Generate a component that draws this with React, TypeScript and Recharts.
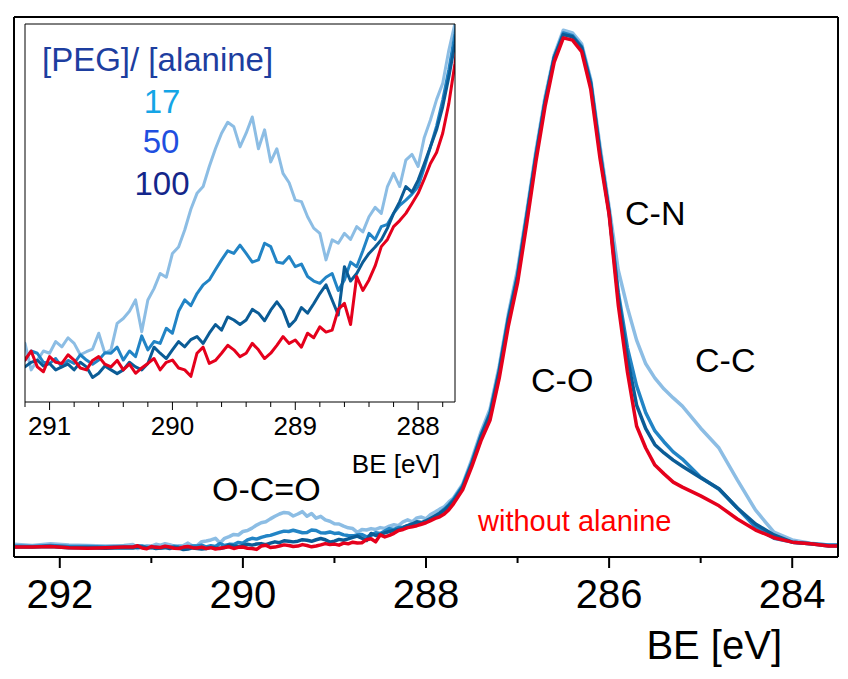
import React from "react";
import { LineChart, Line, XAxis, YAxis, CartesianGrid } from "recharts";

// binding energy (eV), shared by all series
const be = [
  292.5, 292.3, 292.1, 291.9, 291.7, 291.5, 291.3,
  291.2, 291.15, 291.1, 291.05, 291.0, 290.95, 290.9, 290.85, 290.8, 290.75,
  290.7, 290.65, 290.6, 290.55, 290.5, 290.45, 290.4, 290.35, 290.3, 290.25,
  290.2, 290.15, 290.1, 290.05, 290.0, 289.95, 289.9, 289.85, 289.8, 289.75,
  289.7, 289.65, 289.6, 289.55, 289.5, 289.45, 289.4, 289.35, 289.3, 289.25,
  289.2, 289.15, 289.1, 289.05, 289.0, 288.95, 288.9, 288.85, 288.8, 288.75,
  288.7, 288.65, 288.6, 288.55, 288.5, 288.45, 288.4, 288.35, 288.3, 288.25,
  288.2, 288.15, 288.1, 288.05, 288.0, 287.95, 287.9, 287.85, 287.8, 287.75,
  287.7,
  287.6, 287.5, 287.4, 287.3, 287.2, 287.1, 287.0, 286.9, 286.8, 286.7,
  286.6, 286.5, 286.4, 286.3, 286.2, 286.1, 286.0, 285.9, 285.8, 285.7,
  285.6, 285.5, 285.4, 285.3, 285.2,
  285.0, 284.8, 284.6, 284.4, 284.2, 284.0, 283.8, 283.6, 283.5,
];

// [PEG]/[alanine] = 17
const peg17 = [
  16, 14, 17, 15, 14, 13, 14,
  15.5, 8.5, 11, 13.5, 12.9, 16, 14.6, 17, 15.5, 12.5,
  13.3, 14, 18.2, 12.9, 13.8, 20.8, 22.1, 24, 27, 18.6,
  27, 30, 34, 33, 39.3, 41, 45.5, 51, 55.2, 57,
  62.3, 67, 71.1, 74, 72.8, 67.5, 71.1, 75.4, 67, 72,
  63.5, 67, 60.5, 58, 53.4, 53, 49, 46, 44.6, 37.6,
  42.9, 42, 44.6, 43, 46.4, 45, 49, 51.5, 49.9, 57,
  60.5, 57, 64, 65.5, 62.3, 70, 74.6, 80, 84.3, 93.1,
  100.2,
  125, 170, 220, 262, 340, 435, 515, 620, 730, 828,
  905, 950, 945, 925, 860, 740, 629, 514, 446, 387,
  344, 318, 298, 282, 267,
  227, 191, 133, 78, 38, 24, 18, 15, 15,
];

// = 50
const peg50 = [
  13, 12, 14, 12, 12, 11, 12,
  11.1, 13.5, 12.9, 10.5, 10.2, 11.5, 9.3, 11, 10.2, 12.5,
  11.1, 10, 11.1, 13, 12.9, 14.5, 11.1, 13.5, 12, 17.5,
  13.8, 16, 15.5, 19.5, 18.2, 24, 27, 25.5, 28.7, 31,
  32.3, 35, 37.6, 40, 39.3, 41.5, 39.3, 37, 37.6, 42,
  41.1, 37, 36.7, 38.5, 35.8, 36.5, 33.2, 32, 31.4, 33,
  34, 29.5, 32.3, 37, 35.8, 40, 44.6, 43, 46.4, 47,
  49.9, 52, 53.4, 55, 57, 62, 67.5, 73, 79.9, 88,
  97.5,
  122, 165, 214, 255, 332, 428, 505, 612, 722, 820,
  900, 945, 940, 920, 855, 730, 618, 474, 373, 304,
  255, 222, 202, 184, 171,
  138, 116, 82, 47, 27, 20, 17, 15, 15,
];

// = 100
const peg100 = [
  11, 11, 12, 10, 10, 9, 10,
  9.3, 10.5, 11.1, 9.5, 10.2, 8.5, 9.3, 10, 8.5, 10.5,
  9.3, 6.5, 7.6, 9.5, 8.5, 7.5, 8.5, 10.5, 9.3, 8.5,
  10.2, 14.5, 12.9, 11.5, 13.8, 16, 14.6, 16.5, 17.3, 15.5,
  18.2, 20.5, 19, 22.5, 21.7, 20.5, 21.7, 24.5, 23.5, 21.5,
  24.3, 26.5, 24.3, 20, 21.7, 25, 23.5, 26, 28.7, 31,
  27, 23, 35.8, 32, 34, 37, 39.3, 41, 42.9, 46,
  49.9, 53, 57, 55.5, 58.7, 63, 67.5, 72, 78.1, 86,
  94.9,
  120, 162, 212, 252, 330, 425, 502, 610, 720, 820,
  900, 942, 938, 918, 852, 728, 620, 464, 355, 269,
  226, 197, 182, 169, 158,
  137, 117, 82, 53, 33, 20, 17, 13, 13,
];

// without alanine
const noAla = [
  11, 11, 12, 10, 9, 10, 11,
  11.1, 13.5, 9.3, 8, 12, 10.5, 10.2, 12.5, 11.1, 9,
  8.5, 11, 12, 10, 9.3, 11, 8.5, 10, 7.6, 9,
  10.2, 11.5, 8.5, 10.5, 11.1, 9, 8.5, 6.8, 12.9, 14.5,
  10.2, 11, 12.9, 15, 13.8, 12, 12.9, 15.5, 13.8, 11.5,
  12.9, 15, 17.3, 15.5, 16.4, 14.5, 18.2, 17, 19.9, 18.5,
  19, 24.5, 26.1, 20.5, 33.2, 29.5, 32.3, 36, 41.1, 43,
  46.4, 48, 49.9, 52.5, 55.2, 59, 63.1, 66, 71.1, 79,
  89.6,
  115, 157, 204, 242, 318, 413, 491, 598, 711, 811,
  892, 936, 932, 911, 842, 718, 615, 451, 329, 231,
  191, 160, 144, 129, 120,
  104, 86, 62, 42, 28, 20, 17, 13, 13,
];

const mainTicks = [292, 291, 290, 289, 288, 287, 286, 285, 284];
const insetTicks = [291.2, 291, 290.8, 290.6, 290.4, 290.2, 290, 289.8, 289.6, 289.4, 289.2, 289, 288.8, 288.6, 288.4, 288.2, 288, 287.8];

const data = be.map((e, i) => ({ be: e, p17: peg17[i], p50: peg50[i], p100: peg100[i], none: noAla[i] }));

const FONT = "'Liberation Sans', Arial, sans-serif";
const series = [
  { key: "p17", color: "#8cbde4" },
  { key: "p50", color: "#2284c5" },
  { key: "p100", color: "#0b5c96" },
  { key: "none", color: "#e5001c" },
];

function MainTick({ x, y, payload }: any) {
  const major = payload.value % 2 === 0;
  return (
    <g>
      <line x1={x} x2={x} y1={y} y2={y + (major ? 11 : 6)} stroke="#000" strokeWidth={2} />
      {major && (
        <text x={x} y={y + 51} textAnchor="middle" fontSize={40} fontFamily={FONT} fill="#000">
          {payload.value}
        </text>
      )}
    </g>
  );
}

function InsetTick({ x, y, payload }: any) {
  const major = Math.abs(payload.value - Math.round(payload.value)) < 0.01;
  return (
    <g>
      <line x1={x} x2={x} y1={y} y2={y + (major ? 8 : 5)} stroke="#000" strokeWidth={1} />
      {major && (
        <text x={x} y={y + 33} textAnchor="middle" fontSize={26} fontFamily={FONT} fill="#000">
          {Math.round(payload.value)}
        </text>
      )}
    </g>
  );
}

function InsetTopTick({ x, y, payload }: any) {
  const major = Math.abs(payload.value - Math.round(payload.value)) < 0.01;
  return <line x1={x} x2={x} y1={y} y2={y + (major ? 6 : 4)} stroke="#000" strokeWidth={1} />;
}

export default function App() {
  const frame = { stroke: "#000", strokeWidth: 2 };
  const thin = { stroke: "#000", strokeWidth: 1 };
  return (
    <div style={{ position: "relative", width: 848, height: 679, background: "#fff", fontFamily: FONT }}>
      <style>{"body{margin:0}"}</style>
      <div style={{ position: "absolute", left: 0, top: 0 }}>
        <LineChart width={848} height={679} data={data} margin={{ top: 16, right: 9, bottom: 121, left: 13 }}>
          <XAxis
            dataKey="be"
            type="number"
            domain={[283.5, 292.5]}
            reversed
            allowDataOverflow
            ticks={mainTicks}
            interval={0}
            height={1}
            tickSize={0}
            tickMargin={0}
            tickLine={false}
            axisLine={frame}
            tick={<MainTick />}
            label={{
              content: ({ viewBox }: any) => (
                <text x={viewBox.x + viewBox.width - 56} y={viewBox.y + 102} textAnchor="end" fontSize={40} fontFamily={FONT} fill="#000">
                  BE [eV]
                </text>
              ),
            }}
          />
          <XAxis xAxisId="top" orientation="top" type="number" domain={[283.5, 292.5]} reversed height={1} tick={false} tickLine={false} axisLine={frame} />
          <YAxis type="number" domain={[-7, 974]} allowDataOverflow width={1} tick={false} tickLine={false} axisLine={frame} />
          <YAxis yAxisId="right" orientation="right" type="number" domain={[0, 1]} width={1} tick={false} tickLine={false} axisLine={frame} />
          {series.map((s) => (
            <Line key={s.key} dataKey={s.key} stroke={s.color} strokeWidth={3.5} dot={false} isAnimationActive={false} strokeLinejoin="round" />
          ))}
        </LineChart>
      </div>

      <div style={{ position: "absolute", left: 0, top: 0 }}>
        <LineChart width={470} height={490} data={data} margin={{ top: 23, right: 14, bottom: 87, left: 24 }}>
          <CartesianGrid fill="#fff" horizontal={false} vertical={false} />
          <XAxis
            dataKey="be"
            type="number"
            domain={[287.7, 291.2]}
            reversed
            allowDataOverflow
            ticks={insetTicks}
            interval={0}
            height={1}
            tickSize={0}
            tickMargin={0}
            tickLine={false}
            axisLine={thin}
            tick={<InsetTick />}
            label={{
              content: ({ viewBox }: any) => (
                <text x={440} y={viewBox.y + 71} textAnchor="end" fontSize={26} fontFamily={FONT} fill="#000">
                  BE [eV]
                </text>
              ),
            }}
          />
          <XAxis
            xAxisId="top"
            orientation="top"
            type="number"
            domain={[287.7, 291.2]}
            reversed
            allowDataOverflow
            ticks={insetTicks}
            interval={0}
            height={1}
            tickSize={0}
            tickMargin={0}
            tickLine={false}
            axisLine={thin}
            tick={<InsetTopTick />}
          />
          <YAxis type="number" domain={[0, 100]} allowDataOverflow width={1} tick={false} tickLine={false} axisLine={thin} />
          <YAxis yAxisId="right" orientation="right" type="number" domain={[0, 1]} width={1} tick={false} tickLine={false} axisLine={thin} />
          {series.map((s) => (
            <Line key={s.key} dataKey={s.key} stroke={s.color} strokeWidth={3} dot={false} isAnimationActive={false} strokeLinejoin="round" />
          ))}
        </LineChart>
      </div>

      <svg width={848} height={679} style={{ position: "absolute", left: 0, top: 0, pointerEvents: "none" }} fontFamily={FONT}>
        <text x={42} y={71} fontSize={33} fill="#1d3e9f">[PEG]/ [alanine]</text>
        <text x={162} y={113} fontSize={33} fill="#14a5e6" textAnchor="middle">17</text>
        <text x={161} y={153} fontSize={33} fill="#1f4fe0" textAnchor="middle">50</text>
        <text x={162} y={195} fontSize={33} fill="#14268a" textAnchor="middle">100</text>
        <text x={625} y={225} fontSize={34} fill="#000">C-N</text>
        <text x={695} y={372} fontSize={34} fill="#000">C-C</text>
        <text x={531} y={392} fontSize={34} fill="#000">C-O</text>
        <text x={212} y={501} fontSize={34} fill="#000">O-C=O</text>
        <text x={478} y={531} fontSize={29} fill="#ff0000">without alanine</text>
      </svg>
    </div>
  );
}
